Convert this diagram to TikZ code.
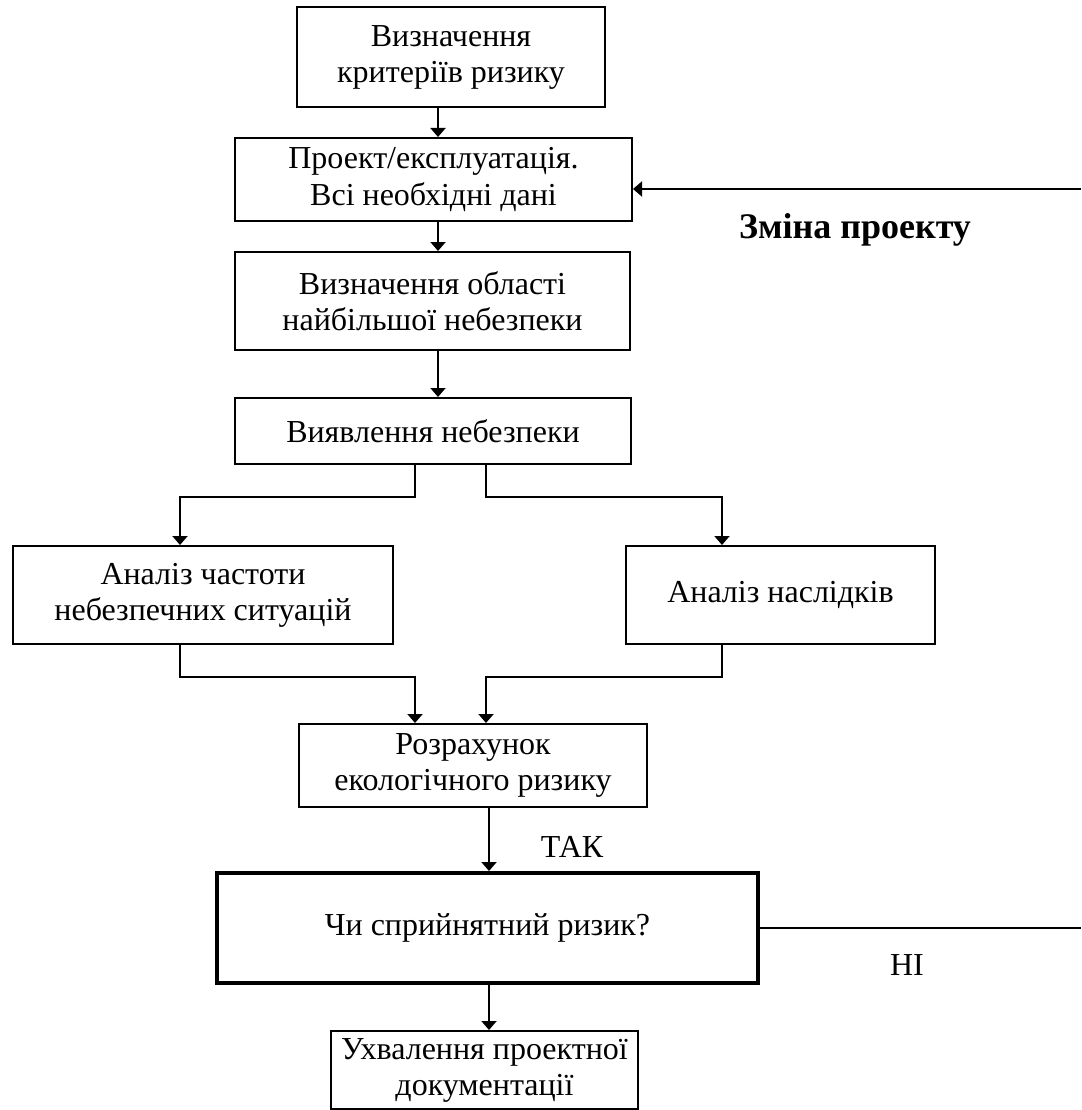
\documentclass[tikz,border=0pt]{standalone}
\usepackage{fontspec}
\setmainfont{Liberation Serif}
\usetikzlibrary{arrows.meta}
\tikzset{
  box/.style={draw, line width=2pt, align=center, inner sep=0pt, font=\fontsize{32}{36}\selectfont},
  decision/.style={box, line width=4pt},
  link/.style={line width=2pt},
  arr/.style={link, -{Triangle[width=15pt,length=9pt]}},
  lbl/.style={inner sep=0pt, font=\fontsize{32}{36}\selectfont}
}
\begin{document}
\begin{tikzpicture}[x=1pt,y=-1pt]
\useasboundingbox (0,0) rectangle (1081,1110);
\path node[box, minimum width=308pt, minimum height=100pt] (crit) at (451,57) {Визначення\\критеріїв ризику}
node[box, minimum width=397pt, minimum height=83pt] (data) at (433.5,179.5) {Проект/експлуатація.\\Всі необхідні дані}
node[box, minimum width=395pt, minimum height=98pt] (area) at (432.5,301) {Визначення області\\найбільшої небезпеки}
node[box, minimum width=396pt, minimum height=66pt] (ident) at (433,431) {Виявлення небезпеки}
node[box, minimum width=380pt, minimum height=98pt] (freq) at (203,595) {Аналіз частоти\\небезпечних ситуацій}
node[box, minimum width=309pt, minimum height=98pt] (cons) at (780.5,595) {\raisebox{7pt}{Аналіз наслідків}}
node[box, minimum width=348pt, minimum height=83pt] (calc) at (473,765.5) {Розрахунок\\екологічного ризику}
node[decision, minimum width=541pt, minimum height=110pt] (accept) at (487.5,928) {Чи сприйнятний ризик?}
node[box, minimum width=307pt, minimum height=78pt] (approve) at (484.5,1070) {Ухвалення проектної\\документації}
node[lbl] (yes) at (572,847) {ТАК}
node[lbl] (no) at (907,965) {НІ}
node[lbl, font=\fontsize{36}{40}\selectfont\bfseries] (change) at (855,230) {Зміна проекту}
;
\coordinate (ax) at (438,0);
\coordinate (bx) at (489,0);
\coordinate (jl) at (415,497);
\coordinate (jr) at (486,497);
\coordinate (ml) at (415,677);
\coordinate (mr) at (486,677);
\coordinate (colA) at (180,0);
\coordinate (colB) at (722,0);
\coordinate (fbtop) at (1081,189);
\coordinate (fbbot) at (1081,928);
\draw[arr] (crit.south -| ax) -- (data.north -| ax);
\draw[arr] (data.south -| ax) -- (area.north -| ax);
\draw[arr] (area.south -| ax) -- (ident.north -| ax);
\draw[arr] (ident.south -| jl) -- (jl) -| (freq.north -| colA);
\draw[arr] (ident.south -| jr) -- (jr) -| (cons.north -| colB);
\draw[arr] (freq.south -| colA) |- (ml) -- (calc.north -| ml);
\draw[arr] (cons.south -| colB) |- (mr) -- (calc.north -| mr);
\draw[arr] (calc.south -| bx) -- (accept.north -| bx);
\draw[arr] (accept.south -| bx) -- (approve.north -| bx);
\draw[link] (accept.east) -- (fbbot);
\draw[arr] (fbtop) -- (data.east |- fbtop);
\end{tikzpicture}
\end{document}
